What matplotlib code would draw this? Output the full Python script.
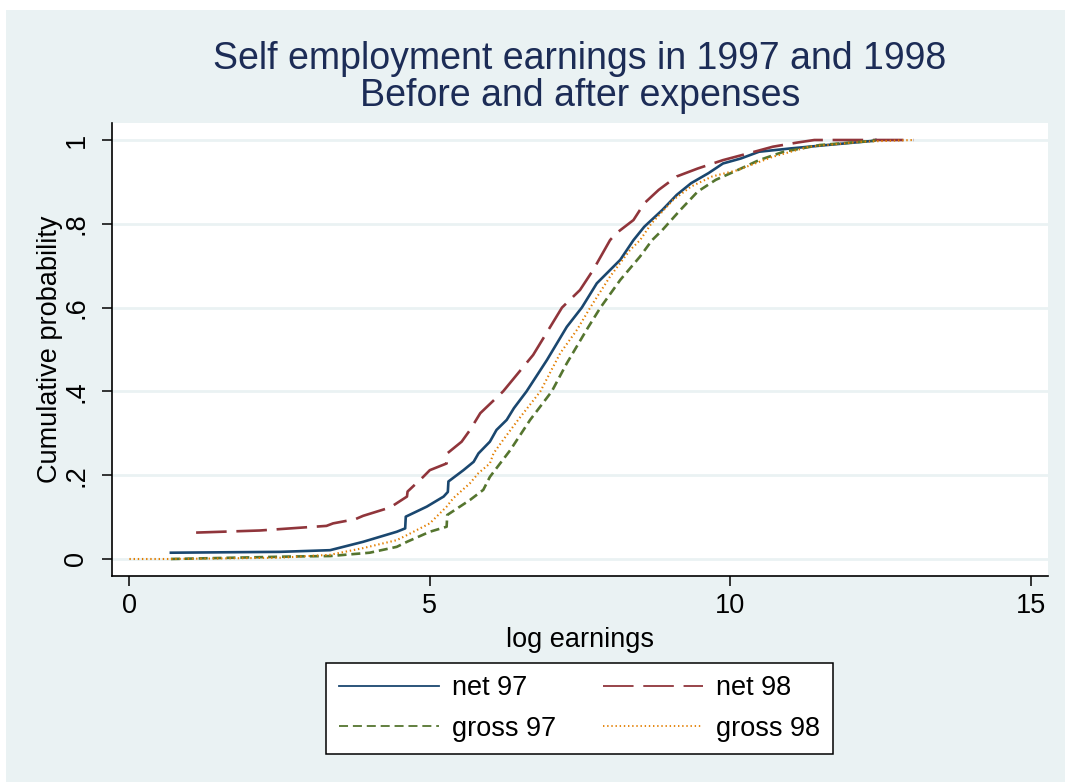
import matplotlib
matplotlib.use('Agg')
import matplotlib.pyplot as plt
from matplotlib.patches import Rectangle

plt.rcParams['font.family'] = ['Liberation Sans', 'DejaVu Sans']
plt.rcParams['lines.scale_dashes'] = False

net97_x = [0.69, 2.5, 3.34, 3.89, 4.45, 4.59, 4.60, 4.95, 5.23, 5.30, 5.31, 5.56,
           5.73, 5.81, 6.0, 6.11, 6.28, 6.40, 6.61, 6.95, 7.28, 7.53, 7.78, 8.17,
           8.39, 8.57, 8.87, 9.11, 9.35, 9.64, 9.88, 10.18, 10.48, 11.01, 11.61,
           12.38, 12.42]
net97_y = [.015, .017, .021, .041, .065, .073, .101, .125, .149, .16, .185, .212,
           .232, .252, .280, .308, .332, .360, .40, .475, .554, .60, .658, .714,
           .761, .793, .833, .869, .897, .921, .944, .956, .972, .980, .988,
           .998, 1.0]

net98_x = [1.11, 2.17, 3.28, 3.39, 3.76, 3.89, 4.34, 4.62, 4.63, 4.89, 5.0, 5.28,
           5.29, 5.53, 5.67, 5.84, 6.22, 6.72, 7.20, 7.50, 7.72, 8.0, 8.10, 8.39,
           8.57, 8.81, 9.11, 9.46, 9.88, 10.30, 10.71, 11.12, 11.4, 13.05]
net98_y = [.063, .068, .079, .085, .095, .103, .123, .149, .161, .196, .212, .228,
           .252, .280, .308, .348, .40, .487, .60, .642, .690, .761, .777, .809,
           .849, .881, .913, .932, .952, .968, .984, .994, 1.0, 1.0]

gross97_x = [0.69, 2.73, 3.34, 4.0, 4.45, 4.62, 5.0, 5.28, 5.29, 5.67, 5.89, 6.0,
             6.17, 6.34, 6.67, 7.03, 7.28, 7.61, 7.84, 8.17, 8.50, 8.70, 8.87,
             9.17, 9.46, 9.76, 10.12, 10.48, 10.89, 11.49, 12.38, 12.42]
gross97_y = [0.0, .006, .007, .015, .029, .041, .065, .077, .105, .141, .165, .196,
             .228, .260, .332, .40, .467, .547, .60, .666, .722, .761, .785,
             .833, .877, .905, .928, .952, .972, .988, .998, 1.0]

gross98_x = [0.0, 0.69, 2.5, 3.34, 3.89, 4.45, 4.62, 5.0, 5.28, 5.39, 5.67, 5.81,
             6.0, 6.06, 6.22, 6.47, 6.84, 7.17, 7.45, 7.67, 8.0, 8.33, 8.50, 8.69,
             9.05, 9.35, 9.70, 10.12, 10.71, 11.31, 12.20, 13.05]
gross98_y = [0.0, 0.0, .003, .01, .026, .045, .057, .085, .125, .145, .181, .205,
             .228, .252, .284, .332, .40, .491, .547, .60, .674, .737, .761, .801,
             .857, .889, .913, .928, .960, .984, .996, 1.0]

yticks = [0, .2, .4, .6, .8, 1]
ytick_labels = ['0', '.2', '.4', '.6', '.8', '1']
xticks = [0, 5, 10, 15]

bg = '#EAF2F3'
fig = plt.figure(figsize=(10.65, 7.82), dpi=100)
fig.patch.set_facecolor('white')
fig.patches.append(Rectangle((6 / 1065, 0), 1, 1 - 10 / 782, transform=fig.transFigure,
                             facecolor=bg, edgecolor='none', zorder=-10))

ax = fig.add_axes([112 / 1065, 1 - 576 / 782, (1048 - 112) / 1065, (576 - 123) / 782])
ax.set_facecolor('white')

l1, = ax.plot(net97_x, net97_y, color='#1A476F', lw=1.9, label='net 97')
l2, = ax.plot(net98_x, net98_y, color='#90353B', lw=1.9, dashes=(22, 7), label='net 98')
l3, = ax.plot(gross97_x, gross97_y, color='#55752F', lw=1.9, dashes=(6.5, 3.5), label='gross 97')
l4, = ax.plot(gross98_x, gross98_y, color='#E37E00', lw=1.5, dashes=(1, 2), label='gross 98')

ax.set_xlim(-0.29, 15.29)
ax.set_ylim(-0.0406, 1.0406)
ax.set_xticks(xticks)
ax.set_yticks(yticks)
ax.set_yticklabels(ytick_labels, rotation=90, va='center')
ax.grid(axis='y', color=bg, lw=2)
ax.set_axisbelow(True)
for s in ['top', 'right']:
    ax.spines[s].set_visible(False)
for s in ['left', 'bottom']:
    ax.spines[s].set_linewidth(1.2)
ax.tick_params(length=7.2, width=1.1, labelsize=19.5, direction='out')
ax.tick_params(axis='y', pad=9)
ax.tick_params(axis='x', pad=5)

ax.set_xlabel('log earnings', fontsize=19.5, labelpad=6)
ax.set_ylabel('Cumulative probability', fontsize=19.5, labelpad=0.5)

title_col = '#1C2C56'
fig.text(580 / 1065, 1 - 69 / 782, 'Self employment earnings in 1997 and 1998',
         ha='center', va='baseline', fontsize=27, color=title_col)
fig.text(580 / 1065, 1 - 106 / 782, 'Before and after expenses',
         ha='center', va='baseline', fontsize=27, color=title_col)

# row-wise order like the original: net 97 | net 98 / gross 97 | gross 98
leg = fig.legend([l1, l3, l2, l4], ['net 97', 'gross 97', 'net 98', 'gross 98'],
                 ncol=2, loc='center', bbox_to_anchor=(579.5 / 1065, 1 - 708.5 / 782),
                 fontsize=19.5, frameon=True, fancybox=False, framealpha=1,
                 handlelength=3.7, handletextpad=0.5, columnspacing=1.7,
                 labelspacing=0.52, borderpad=0.45)
leg.get_frame().set_facecolor('white')
leg.get_frame().set_edgecolor('black')
leg.get_frame().set_linewidth(1.1)
for line in leg.get_lines():
    line.set_linewidth(1.3)

fig.savefig('out.png', dpi=100)
